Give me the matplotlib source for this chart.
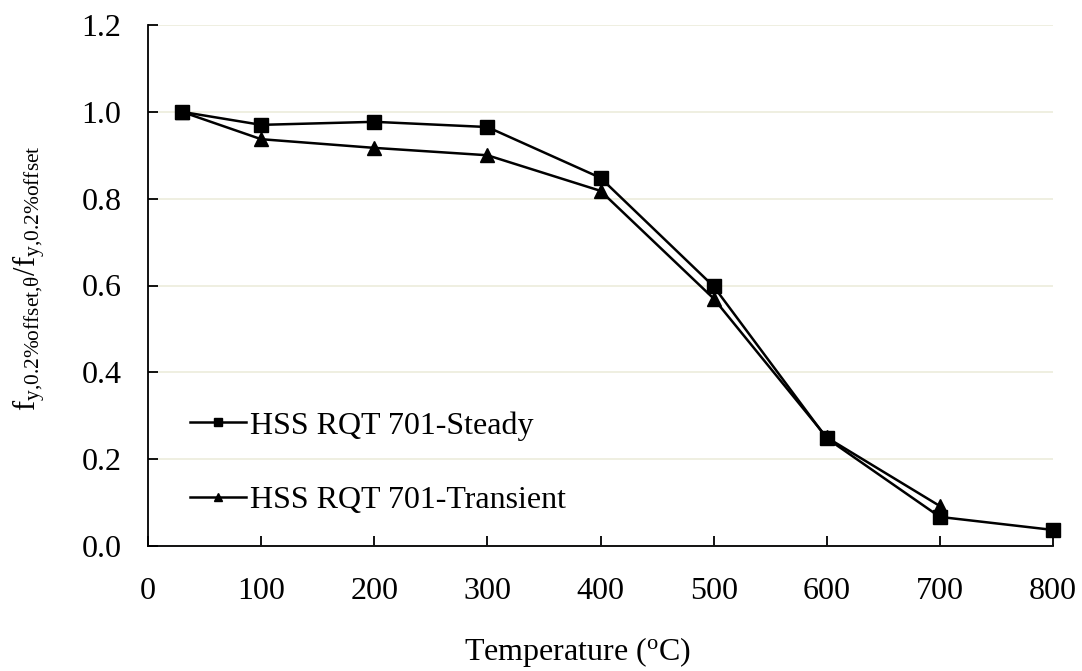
import matplotlib.pyplot as plt
from matplotlib.ticker import FormatStrFormatter

plt.rcParams['font.family'] = 'Liberation Serif'
plt.rcParams['mathtext.fontset'] = 'custom'
plt.rcParams['mathtext.rm'] = 'Liberation Serif'
plt.rcParams['mathtext.it'] = 'Liberation Serif:italic'

temp_steady = [30, 100, 200, 300, 400, 500, 600, 700, 800]
fy_steady = [1.0, 0.970, 0.977, 0.965, 0.848, 0.598, 0.248, 0.067, 0.037]

temp_transient = [30, 100, 200, 300, 400, 500, 600, 700]
fy_transient = [1.0, 0.937, 0.917, 0.900, 0.818, 0.570, 0.250, 0.092]

FS = 23

fig = plt.figure(figsize=(10.82, 6.71), dpi=100)
ax = fig.add_axes([148 / 1082, 125 / 671, 905 / 1082, 521 / 671])

# transient drawn first so the steady squares sit on top where they overlap
l_tr, = ax.plot(temp_transient, fy_transient, color='black', lw=1.8, marker='^', ms=9.5,
                label='HSS RQT 701-Transient', zorder=3, clip_on=False)
l_st, = ax.plot(temp_steady, fy_steady, color='black', lw=1.8, marker='s', ms=9.5,
                label='HSS RQT 701-Steady', zorder=4, clip_on=False)

ax.set_xlim(0, 800)
ax.set_ylim(0, 1.2)
ax.set_xticks(range(0, 801, 100))
ax.set_yticks([0, 0.2, 0.4, 0.6, 0.8, 1.0, 1.2])
ax.yaxis.set_major_formatter(FormatStrFormatter('%.1f'))
ax.grid(axis='y', color='#ECECDC', lw=1.2, zorder=0)
ax.set_axisbelow(True)

for s in ['top', 'right']:
    ax.spines[s].set_visible(False)
ax.spines['left'].set_linewidth(1.3)
ax.spines['bottom'].set_linewidth(1.3)
ax.tick_params(direction='in', length=7, width=1.3, labelsize=FS)
ax.tick_params(axis='y', pad=19)
ax.tick_params(axis='x', pad=22)

ax.set_xlabel(r'Temperature ($\mathrm{^{o}}$C)', fontsize=FS)
ax.xaxis.set_label_coords(0.475, -0.17)
ax.set_ylabel(r'$\mathrm{f_{y{,}0.2\%offset{,}\theta}/f_{y{,}0.2\%offset}}$', fontsize=22)
ax.yaxis.set_label_coords(-0.112, 0.514)

ax.legend([l_st, l_tr], [l_st.get_label(), l_tr.get_label()],
          loc='lower left', bbox_to_anchor=(0.046, 0.06), frameon=False, fontsize=FS,
          markerscale=0.6, handlelength=1.75, handletextpad=0.15, labelspacing=1.4,
          borderpad=0, borderaxespad=0)

fig.savefig('out.png', dpi=100)
